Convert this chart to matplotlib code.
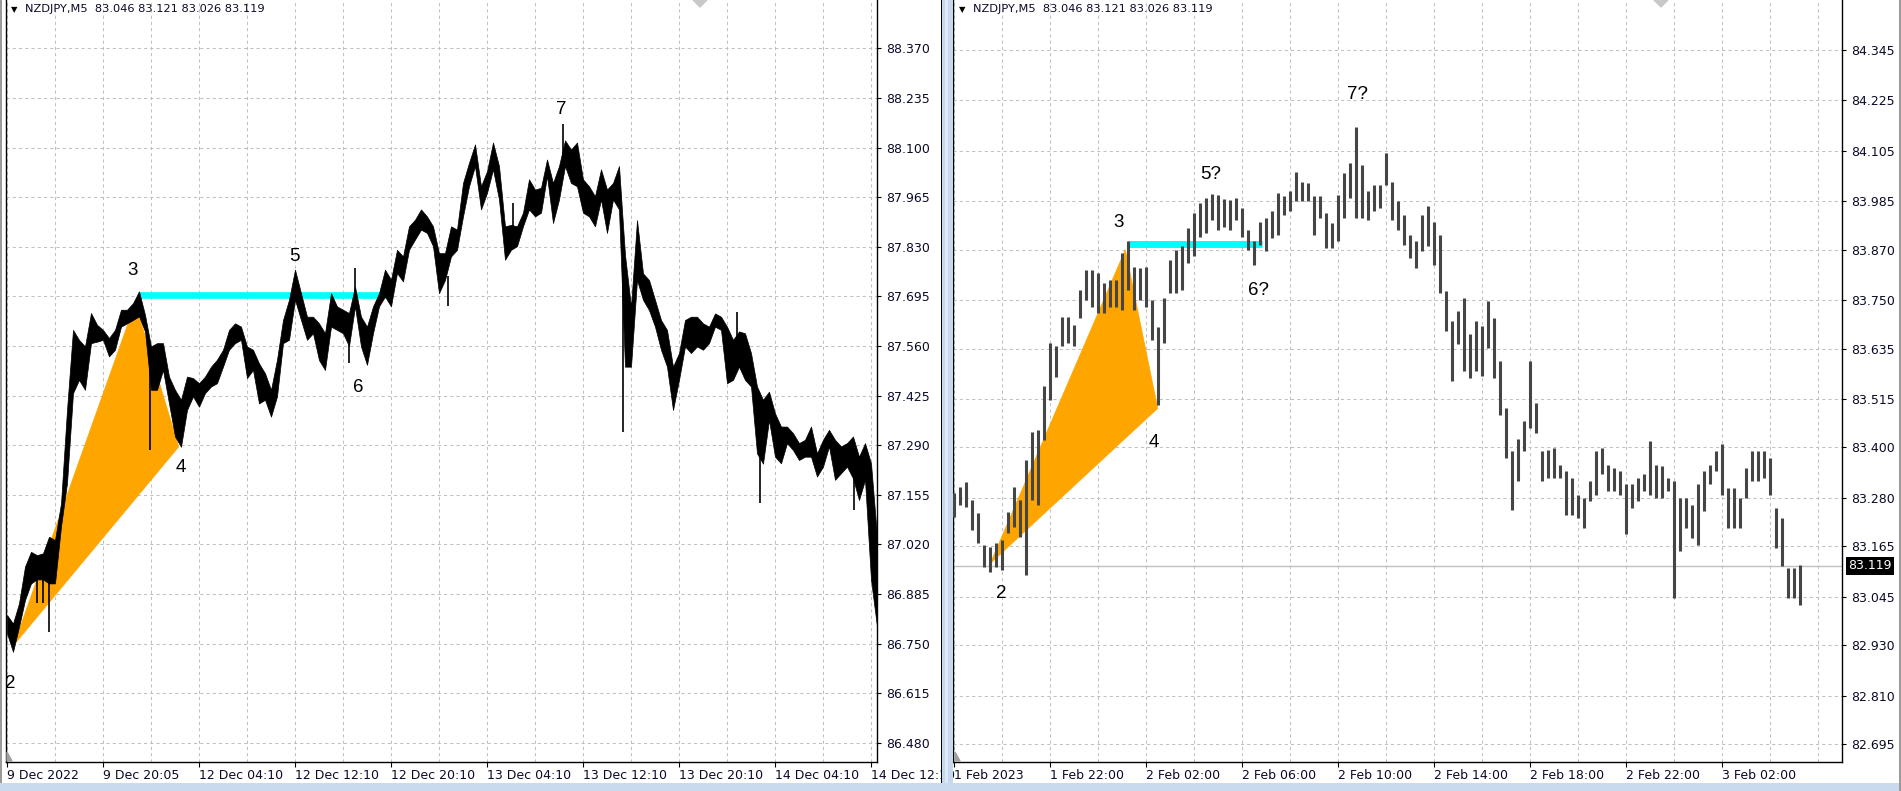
import numpy as np
import matplotlib
matplotlib.use("Agg")
import matplotlib.pyplot as plt
from matplotlib.patches import Rectangle, Polygon
from matplotlib.transforms import blended_transform_factory, ScaledTranslation

W, H, DPI = 1901, 791, 100

title_text = "NZDJPY,M5  83.046 83.121 83.026 83.119"

# ---------------- left panel: NZDJPY M5, 9-14 Dec 2022 (one sample per 6 bars)
left_step = 6
left_high = [86.828, 86.805, 86.860, 86.960, 87.000, 86.991, 86.996, 87.041, 87.032, 87.132,
             87.386, 87.604, 87.577, 87.559, 87.650, 87.618, 87.604, 87.582, 87.604, 87.659,
             87.659, 87.677, 87.709, 87.645, 87.559, 87.568, 87.568, 87.477, 87.441, 87.414,
             87.477, 87.473, 87.459, 87.477, 87.504, 87.523, 87.550, 87.604, 87.622, 87.613,
             87.559, 87.550, 87.513, 87.486, 87.441, 87.523, 87.631, 87.686, 87.768, 87.704,
             87.640, 87.640, 87.622, 87.595, 87.704, 87.668, 87.659, 87.650, 87.722, 87.640,
             87.613, 87.668, 87.704, 87.768, 87.741, 87.822, 87.804, 87.886, 87.904, 87.932,
             87.913, 87.886, 87.813, 87.813, 87.886, 87.877, 88.004, 88.059, 88.109, 87.995,
             88.036, 88.114, 88.050, 87.886, 87.890, 87.886, 87.923, 88.014, 87.986, 87.991,
             88.068, 88.004, 88.050, 88.120, 88.095, 88.114, 88.014, 87.995, 87.968, 88.041,
             87.986, 88.004, 88.050, 87.808, 87.667, 87.903, 87.758, 87.740, 87.686, 87.631,
             87.604, 87.504, 87.541, 87.631, 87.640, 87.640, 87.622, 87.613, 87.649, 87.640,
             87.613, 87.577, 87.600, 87.595, 87.541, 87.450, 87.414, 87.436, 87.377, 87.341,
             87.341, 87.323, 87.296, 87.305, 87.341, 87.268, 87.305, 87.332, 87.305, 87.287,
             87.296, 87.314, 87.259, 87.296, 87.241, 87.042]
left_low = [86.778, 86.728, 86.796, 86.869, 86.914, 86.925, 86.925, 86.914, 86.914, 87.069,
            87.187, 87.432, 87.468, 87.441, 87.568, 87.572, 87.577, 87.532, 87.550, 87.613,
            87.622, 87.631, 87.641, 87.600, 87.441, 87.441, 87.495, 87.404, 87.314, 87.286,
            87.386, 87.423, 87.395, 87.432, 87.450, 87.459, 87.504, 87.550, 87.568, 87.577,
            87.473, 87.495, 87.404, 87.414, 87.368, 87.423, 87.568, 87.577, 87.686, 87.631,
            87.577, 87.595, 87.522, 87.495, 87.613, 87.604, 87.595, 87.560, 87.668, 87.559,
            87.509, 87.595, 87.668, 87.695, 87.668, 87.759, 87.736, 87.822, 87.850, 87.877,
            87.868, 87.832, 87.704, 87.740, 87.804, 87.822, 87.913, 87.995, 88.050, 87.932,
            87.977, 88.041, 87.959, 87.795, 87.822, 87.832, 87.886, 87.932, 87.913, 87.923,
            88.023, 87.895, 87.959, 88.050, 88.004, 87.995, 87.923, 87.913, 87.886, 87.959,
            87.868, 87.959, 87.932, 87.504, 87.504, 87.740, 87.686, 87.658, 87.613, 87.550,
            87.504, 87.386, 87.468, 87.559, 87.541, 87.559, 87.550, 87.568, 87.613, 87.604,
            87.459, 87.468, 87.504, 87.468, 87.450, 87.268, 87.240, 87.359, 87.259, 87.241,
            87.296, 87.277, 87.250, 87.259, 87.259, 87.205, 87.232, 87.287, 87.196, 87.214,
            87.232, 87.200, 87.141, 87.196, 86.924, 86.797]
# long single-bar wicks (bar index, low, high)
left_wick_bar = [30, 36, 42, 143, 342, 348, 441, 506, 556, 616, 730, 753, 847]
left_wick_low = [86.860, 86.860, 86.782, 87.277, 87.513, 87.680, 87.668, 87.850, 88.050,
                 87.327, 87.550, 87.132, 87.114]
left_wick_high = [86.950, 86.950, 86.930, 87.500, 87.580, 87.772, 87.750, 87.950, 88.164,
                  87.863, 87.654, 87.300, 87.220]
left_xtick_bar = [0, 96, 192, 288, 384, 480, 576, 672, 768, 864]
left_xtick_label = ["9 Dec 2022", "9 Dec 20:05", "12 Dec 04:10", "12 Dec 12:10",
                    "12 Dec 20:10", "13 Dec 04:10", "13 Dec 12:10", "13 Dec 20:10",
                    "14 Dec 04:10", "14 Dec 12:10"]
left_ytick_label = ["88.370", "88.235", "88.100", "87.965", "87.830", "87.695", "87.560",
                    "87.425", "87.290", "87.155", "87.020", "86.885", "86.750", "86.615",
                    "86.480"]
left_wave_text = ["2", "3", "4", "5", "6", "7"]
left_wave_bar = [3.5, 126, 173.5, 287, 351, 554]
left_wave_price = [86.643, 87.767, 87.230, 87.803, 87.447, 88.203]
left_tri_bar = [6.7, 128.3, 171.7]
left_tri_price = [86.746, 87.677, 87.286]
left_level_bar = [131, 383]
left_level_price = 87.699

# ---------------- right panel: NZDJPY M5, 1-3 Feb 2023 (one bar per 3 M5 bars)
right_step = 3
right_high = [83.291, 83.307, 83.318, 83.275, 83.243, 83.168, 83.164, 83.172, 83.180, 83.247,
              83.307, 83.275, 83.370, 83.437, 83.441, 83.545, 83.648, 83.640, 83.711, 83.711,
              83.691, 83.774, 83.822, 83.822, 83.814, 83.790, 83.798, 83.798, 83.862, 83.890,
              83.830, 83.826, 83.830, 83.751, 83.687, 83.755, 83.846, 83.870, 83.878, 83.921,
              83.957, 83.981, 83.994, 84.003, 84.000, 83.990, 83.989, 83.994, 83.970, 83.917,
              83.890, 83.937, 83.945, 83.961, 84.005, 83.997, 84.009, 84.056, 84.032, 84.028,
              83.997, 83.997, 83.957, 83.933, 84.001, 84.052, 84.076, 84.163, 84.072, 84.009,
              84.024, 84.024, 84.100, 84.032, 83.985, 83.953, 83.906, 83.890, 83.953, 83.973,
              83.937, 83.906, 83.771, 83.700, 83.724, 83.756, 83.669, 83.700, 83.688, 83.748,
              83.708, 83.605, 83.494, 83.391, 83.419, 83.462, 83.605, 83.506, 83.391, 83.395,
              83.399, 83.359, 83.343, 83.328, 83.288, 83.280, 83.320, 83.391, 83.399, 83.359,
              83.351, 83.343, 83.312, 83.312, 83.328, 83.336, 83.415, 83.359, 83.355, 83.328,
              83.320, 83.280, 83.280, 83.264, 83.312, 83.343, 83.359, 83.391, 83.407, 83.304,
              83.304, 83.280, 83.351, 83.391, 83.391, 83.391, 83.375, 83.256, 83.232, 83.113,
              83.113, 83.121]
right_low = [83.235, 83.263, 83.259, 83.204, 83.172, 83.116, 83.104, 83.116, 83.108, 83.196,
             83.211, 83.188, 83.096, 83.275, 83.263, 83.418, 83.513, 83.568, 83.640, 83.648,
             83.640, 83.707, 83.751, 83.735, 83.719, 83.719, 83.735, 83.735, 83.727, 83.774,
             83.727, 83.751, 83.735, 83.656, 83.501, 83.648, 83.767, 83.767, 83.774, 83.838,
             83.854, 83.901, 83.909, 83.941, 83.917, 83.925, 83.917, 83.941, 83.900, 83.870,
             83.834, 83.882, 83.866, 83.898, 83.906, 83.953, 83.961, 83.985, 83.985, 83.985,
             83.906, 83.945, 83.874, 83.874, 83.890, 83.945, 83.993, 83.945, 83.945, 83.941,
             83.961, 83.969, 84.024, 83.941, 83.917, 83.882, 83.850, 83.826, 83.866, 83.878,
             83.834, 83.767, 83.676, 83.557, 83.645, 83.581, 83.565, 83.581, 83.569, 83.637,
             83.565, 83.478, 83.375, 83.252, 83.320, 83.391, 83.447, 83.435, 83.320, 83.328,
             83.328, 83.328, 83.240, 83.240, 83.232, 83.209, 83.272, 83.288, 83.336, 83.296,
             83.296, 83.288, 83.193, 83.256, 83.272, 83.296, 83.288, 83.280, 83.280, 83.296,
             83.042, 83.153, 83.209, 83.185, 83.169, 83.248, 83.312, 83.343, 83.288, 83.209,
             83.209, 83.209, 83.280, 83.320, 83.320, 83.328, 83.288, 83.161, 83.117, 83.042,
             83.042, 83.026]
right_xtick_bar = [0, 48, 96, 144, 192, 240, 288, 336, 384]
right_xtick_label = ["1 Feb 2023", "1 Feb 22:00", "2 Feb 02:00", "2 Feb 06:00",
                     "2 Feb 10:00", "2 Feb 14:00", "2 Feb 18:00", "2 Feb 22:00",
                     "3 Feb 02:00"]
right_ytick_label = ["84.345", "84.225", "84.105", "83.985", "83.870", "83.750", "83.635",
                     "83.515", "83.400", "83.280", "83.165", "83.045", "82.930", "82.810",
                     "82.695"]
right_wave_text = ["2", "3", "4", "5?", "6?", "7?"]
right_wave_bar = [23.3, 82, 100, 128, 152, 201.5]
right_wave_price = [83.053, 83.935, 83.412, 84.048, 83.774, 84.239]
right_tri_bar = [18.0, 85.5, 101.7]
right_tri_price = [83.124, 83.870, 83.493]
right_level_bar = [87, 154]
right_level_price = 83.883
last_price = 83.119

TXT = "#0a0a28"
GRID = "#c0c0c0"


def fx(x):
    return x / W


def fy(y):
    return 1 - y / H


fig = plt.figure(figsize=(W / DPI, H / DPI), dpi=DPI)
fig.patch.set_facecolor("white")

axL = fig.add_axes([fx(6), fy(762), (877 - 6) / W, 762 / H])
axR = fig.add_axes([fx(953), fy(762), (1842 - 953) / W, 762 / H])


def style(ax, xlim, ylim, ylabels, xt, xlabels, grid_step):
    ax.set_xlim(*xlim)
    ax.set_ylim(*ylim)
    ax.set_facecolor("white")
    ax.spines["top"].set_visible(False)
    for s in ["left", "right", "bottom"]:
        ax.spines[s].set_color("black")
        ax.spines[s].set_linewidth(1.0)
    yt = [float(v) for v in ylabels]
    ax.yaxis.tick_right()
    ax.set_yticks(yt)
    ax.set_yticklabels(ylabels)
    ax.set_xticks(xt)
    ax.set_xticklabels(xlabels, ha="left")
    shift = ScaledTranslation(2 / DPI, 0, fig.dpi_scale_trans)
    for lab in ax.get_xticklabels():
        lab.set_transform(lab.get_transform() + shift)
    ax.tick_params(axis="y", direction="out", length=3, width=0.8, pad=3.5,
                   labelsize=9, labelcolor=TXT, color="black")
    ax.tick_params(axis="x", direction="out", length=3.5, width=0.8, pad=1.2,
                   labelsize=9, labelcolor=TXT, color="black")
    for v in yt:
        ax.axhline(v, color=GRID, lw=0.75, ls=(0, (3, 3)), zorder=0)
    for v in np.arange(0, xlim[1], grid_step):
        ax.axvline(v, color=GRID, lw=0.75, ls=(0, (3, 3)), zorder=0)


style(axL, (-1, 870), (86.428, 88.502), left_ytick_label, left_xtick_bar,
      left_xtick_label, 48)
style(axR, (-0.65, 443.85), (82.652, 84.4639), right_ytick_label, right_xtick_bar,
      right_xtick_label, 24)

# ---- left panel drawing
lb = np.arange(len(left_high)) * left_step
axL.add_patch(Polygon(np.column_stack([left_tri_bar, left_tri_price]), closed=True,
                      facecolor="#ffa500", edgecolor="#ffa500", lw=0.5, zorder=1))
axL.plot(left_level_bar, [left_level_price] * 2, color="#00ffff", lw=4.8,
         solid_capstyle="butt", zorder=2)
axL.fill_between(lb, left_low, left_high, color="black", lw=0.5, zorder=3)
axL.vlines(left_wick_bar, left_wick_low, left_wick_high, color="black", lw=1.2, zorder=3)
for t, b, p in zip(left_wave_text, left_wave_bar, left_wave_price):
    axL.text(b, p, t, fontsize=13.5, family="Liberation Sans", ha="center", va="center",
             color="black", zorder=5)

# ---- right panel drawing
rb = np.arange(len(right_high)) * right_step
axR.add_patch(Polygon(np.column_stack([right_tri_bar, right_tri_price]), closed=True,
                      facecolor="#ffa500", edgecolor="#ffa500", lw=0.5, zorder=1))
axR.axhline(last_price, color="#c0c0c0", lw=1.0, zorder=1)
axR.plot(right_level_bar, [right_level_price] * 2, color="#00ffff", lw=5.0,
         solid_capstyle="butt", zorder=2)
axR.vlines(rb, right_low, right_high, color="#454545", lw=2.2, zorder=3)
for t, b, p in zip(right_wave_text, right_wave_bar, right_wave_price):
    axR.text(b, p, t, fontsize=13.5, family="Liberation Sans", ha="center", va="center",
             color="black", zorder=5)
trR = blended_transform_factory(axR.transAxes, axR.transData)
axR.text(1.0 + 6 / 889, last_price, "%.3f" % last_price, transform=trR, color="white",
         fontsize=9, ha="left", va="center", clip_on=False, zorder=6,
         bbox=dict(boxstyle="square,pad=0.2", fc="black", ec="none"))

# ---- titles
for tri_x, txt_x in [(14, 25), (962, 973)]:
    fig.text(fx(tri_x), fy(9.5), "\u25bc", fontsize=6, ha="center", va="center", color="black")
    fig.text(fx(txt_x), fy(9.5), title_text, fontsize=8.2, ha="left", va="center", color=TXT)

# ---- window decorations
deco = [
    ((0, 0), 2 / W, 1, "#9a9a9a"),
    (((940.5) / W, 8 / H), 1.2 / W, 1, "black"),
    ((941.7 / W, 0), 11.0 / W, 1, "#c5d8ee"),
    ((944.5 / W, 0), 3 / W, 1, "#dfe9f6"),
    ((0, 0), 1, 8 / H, "#c9d9ee"),
    ((1899 / W, 0), 2 / W, 1, "#9a9a9a"),
]
for xy, w, h, c in deco:
    fig.add_artist(Rectangle(xy, w, h, transform=fig.transFigure, color=c, zorder=10, lw=0))

# small markers at top (one-click trading) and chart shift triangles
for cx in (700, 1661):
    fig.add_artist(Polygon([(fx(cx - 7), fy(0)), (fx(cx + 7), fy(0)), (fx(cx), fy(7))],
                           closed=True, transform=fig.transFigure, color="#c8c8c8", zorder=9))
for lx in (7, 955):
    fig.add_artist(Polygon([(fx(lx), fy(761)), (fx(lx), fy(752)), (fx(lx + 5), fy(761))],
                           closed=True, transform=fig.transFigure, color="#a0a0a0", zorder=9))

fig.savefig("out.png", dpi=DPI, facecolor="white")
